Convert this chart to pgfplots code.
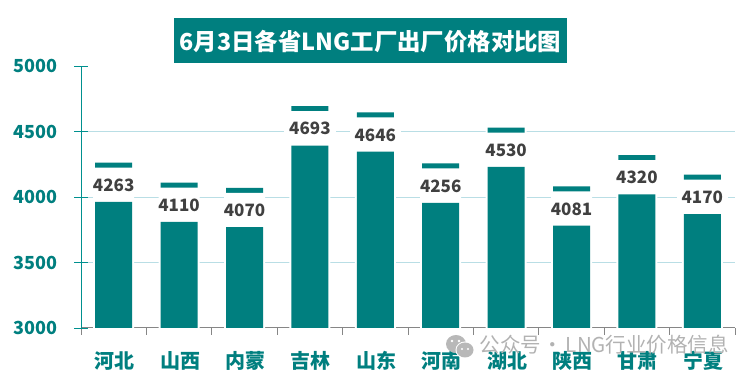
\documentclass[border=0pt]{standalone}
\usepackage{fontspec}
\setmainfont{Noto Sans CJK SC}
\usepackage{pgfplots}
\pgfplotsset{compat=1.18}
\definecolor{teal1}{HTML}{007F7F}
\definecolor{tealaxis}{HTML}{00908F}
\definecolor{gridc}{HTML}{B9DEE5}
\pgfplotsset{layers/mylayers/.define layer set={axis background,axis grid,main,axis ticks,axis lines,axis tick labels,axis descriptions,axis foreground}{}}
\begin{document}
\begin{tikzpicture}
\path (0pt,0pt) rectangle (752pt,377pt);
\begin{axis}[
  set layers=mylayers,
  at={(81pt,49pt)},anchor=south west,
  scale only axis,width=654pt,height=262pt,
  xmin=-0.5,xmax=9.5,ymin=3000,ymax=5000,
  ybar,bar width=37pt,
  axis x line=bottom,axis y line=left,
  axis line style={-},
  x axis line style={draw=gray!95,line width=1pt},
  y axis line style={draw=tealaxis,line width=0.9pt},
  xtick={0,...,9},
  xticklabels={河北,山西,内蒙,吉林,山东,河南,湖北,陕西,甘肃,宁夏},
  minor xtick={-0.5,0.5,1.5,2.5,3.5,4.5,5.5,6.5,7.5,8.5,9.5},
  x tick style={draw=none},
  minor x tick style={draw=gray!95,line width=0.8pt},
  minor tick length=7pt,
  xtick align=outside,
  ytick={3500,4000,4500},
  extra y ticks={3000,5000},
  extra y tick style={grid=none},
  ytick align=center,
  major tick length=14pt,
  y tick style={draw=tealaxis,line width=0.8pt},
  ymajorgrids,
  y grid style={draw=gridc,line width=0.8pt},
  /pgf/number format/assume math mode=true,
  /pgf/number format/set thousands separator={},
  xticklabel style={font=\fontsize{20}{22}\selectfont\bfseries,text=teal1,yshift=-6pt,xshift=1pt},
  yticklabel style={font=\fontsize{18}{20}\selectfont\bfseries,text=teal1,xshift=-13pt},
]
% white halo round each column
\addplot[bar shift=0pt,bar width=41pt,fill=white,draw=none] coordinates {
(0,4271)(1,4118)(2,4078)(3,4701)(4,4654)(5,4264)(6,4538)(7,4089)(8,4328)(9,4178)};
% the value: top of the cap
\addplot[bar shift=0pt,fill=teal1,draw=none] coordinates {
(0,4263)(1,4110)(2,4070)(3,4693)(4,4646)(5,4256)(6,4530)(7,4081)(8,4320)(9,4170)};
% white break below the cap, carrying the label
\addplot[bar shift=0pt,bar width=40pt,fill=white,draw=none,
  point meta=explicit symbolic,
  nodes near coords,
  every node near coord/.style={anchor=center,yshift=-17.5pt,fill=white,
    inner xsep=5pt,inner ysep=1pt,text=black!75,draw=none,
    font=\fontsize{17}{19}\selectfont\bfseries}
] coordinates {
(0,4225)[4263](1,4072)[4110](2,4032)[4070](3,4655)[4693](4,4608)[4646](5,4218)[4256](6,4492)[4530](7,4043)[4081](8,4282)[4320](9,4132)[4170]};
% lower part of the column
\addplot[bar shift=0pt,fill=teal1,draw=none] coordinates {
(0,3963)(1,3810)(2,3770)(3,4393)(4,4346)(5,3956)(6,4230)(7,3781)(8,4020)(9,3870)};
\end{axis}
\fill[teal1] (174pt,314pt) rectangle (567pt,359pt);
\node[text=white,font=\fontsize{23.4}{26}\selectfont\bfseries,inner sep=0pt] at (370.5pt,335pt) {6月3日各省LNG工厂出厂价格对比图};
\fill[black!28] (456pt,33pt) ellipse (10pt and 9pt);
\fill[white] (465pt,27pt) ellipse (9.5pt and 8.5pt);
\fill[black!28] (465pt,27pt) ellipse (8.5pt and 7.5pt);
\fill[white] (452pt,36pt) circle (1.3pt);
\fill[white] (459pt,36pt) circle (1.3pt);
\fill[white] (462pt,28pt) circle (1.1pt);
\fill[white] (468pt,28pt) circle (1.1pt);
\node[text=black!30,font=\fontsize{20.5}{22}\selectfont,anchor=west,inner sep=0pt] at (479.5pt,32pt) {公众号\kern-3pt{} · \kern-2pt LNG行业价格信息};
\end{tikzpicture}
\end{document}
